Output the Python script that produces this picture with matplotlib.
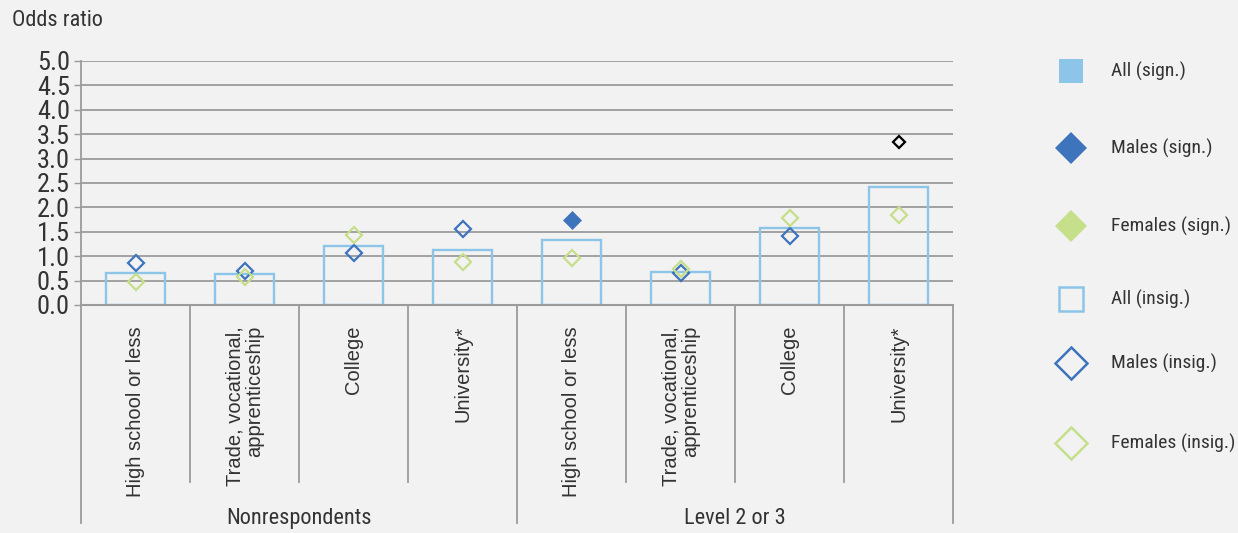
import matplotlib
matplotlib.use("Agg")
import matplotlib.pyplot as plt
from matplotlib import font_manager
from matplotlib.font_manager import FontProperties
from matplotlib.lines import Line2D

# odds ratios by literacy group and education
groups = ["Nonrespondents", "Level 2 or 3"]
categories = ["High school or less", "Trade, vocational,\napprenticeship", "College", "University*",
              "High school or less", "Trade, vocational,\napprenticeship", "College", "University*"]
all_vals = [0.66, 0.63, 1.21, 1.13, 1.33, 0.67, 1.58, 2.41]
males = [0.86, 0.70, 1.06, 1.56, 1.74, 0.65, 1.41, 3.35]
females = [0.47, 0.57, 1.43, 0.88, 0.97, 0.73, 1.78, 1.84]
males_sign = [False, False, False, False, True, False, False, False]
males_ref = [False, False, False, False, False, False, False, True]
legend_labels = ["All (sign.)", "Males (sign.)", "Females (sign.)",
                 "All (insig.)", "Males (insig.)", "Females (insig.)"]
yticks = [0.0, 0.5, 1.0, 1.5, 2.0, 2.5, 3.0, 3.5, 4.0, 4.5, 5.0]

BG = "#f2f2f2"
BLUE_LIGHT = "#8cc5e8"
BLUE = "#3d74bc"
GREEN = "#c5df8a"
GRID = "#9b9b9b"
TXT = "#333333"


def pick_narrow():
    # look for a condensed face among installed fonts
    best = None
    for f in font_manager.fontManager.ttflist:
        stretch = str(f.stretch).lower()
        narrowish = ("narrow" in f.name.lower() or "condensed" in f.name.lower()
                     or "condensed" in stretch or stretch in ("300", "400", "200"))
        if not narrowish or f.style != "normal" or f.weight not in (400, "normal", "regular"):
            continue
        rank = 0 if "Liberation" in f.name else 1 if "Roboto" in f.name else 2
        if best is None or rank < best[0]:
            best = (rank, f.fname)
    return best[1] if best else None


narrow_path = pick_narrow()
if narrow_path:
    def nfont(size):
        return FontProperties(fname=narrow_path, size=size)
else:
    def nfont(size):
        return FontProperties(family="DejaVu Sans", size=size * 0.82)

fig = plt.figure(figsize=(12.38, 5.33), dpi=100, facecolor=BG)
ax = fig.add_axes([81 / 1238, 1 - 305 / 533, (953 - 81) / 1238, 244 / 533])
ax.set_facecolor(BG)

x = list(range(len(categories)))

# bars (all insignificant -> outline only)
ax.bar(x, all_vals, width=0.54, facecolor="none", edgecolor=BLUE_LIGHT, linewidth=1.7, zorder=3)

for i in x:
    if males_ref[i]:
        ax.plot(i, males[i], marker="D", ms=6.5, mfc="none", mec="black", mew=1.6, zorder=4)
    elif males_sign[i]:
        ax.plot(i, males[i], marker="D", ms=9, mfc=BLUE, mec=BLUE, mew=0.5, zorder=4)
    else:
        ax.plot(i, males[i], marker="D", ms=8.5, mfc="none", mec=BLUE, mew=1.6, zorder=4)
    ax.plot(i, females[i], marker="D", ms=8.5, mfc="none", mec=GREEN, mew=1.6, zorder=5)

ax.set_xlim(-0.5, len(categories) - 0.5)
ax.set_ylim(0, 5)
ax.set_yticks(yticks)
ax.set_yticklabels([f"{v:.1f}" for v in yticks], color=TXT)
for t in ax.get_yticklabels():
    t.set_fontproperties(nfont(19))
ax.tick_params(axis="y", length=5, width=1, color=GRID, pad=3)
ax.tick_params(axis="x", bottom=False, labelbottom=False)
ax.grid(axis="y", color=GRID, linewidth=1.3, zorder=1)
for s in ["top", "right", "bottom"]:
    ax.spines[s].set_visible(False)
ax.spines["left"].set_color(GRID)
ax.spines["left"].set_linewidth(1.3)

# category axis drawn below the plot
tr = ax.get_xaxis_transform()
ax.plot([-0.5, len(categories) - 0.5], [0, 0], transform=tr, color=GRID, lw=1.5, clip_on=False, zorder=6)
for k in range(len(categories) + 1):
    edge = k % 4 == 0
    ax.plot([k - 0.5, k - 0.5], [0, -0.893 if edge else -0.725], transform=tr,
            color=GRID, lw=1.3, clip_on=False)
for i, lab in enumerate(categories):
    ax.text(i, -0.086, lab, transform=tr, rotation=90, ha="center", va="top",
            fontsize=14.5, color=TXT, family=["Liberation Sans", "DejaVu Sans"],
            linespacing=1.05, multialignment="right")
for g, name in enumerate(groups):
    ax.text(g * 4 + 1.5, -0.877, name, transform=tr, ha="center", va="center",
            fontproperties=nfont(16), color=TXT)

fig.text(12 / 1238, 1 - 21 / 533, "Odds ratio", ha="left", va="center",
         fontproperties=nfont(16), color=TXT)

# legend
leg_y = [71, 148, 226, 299, 363, 443]
styles = [
    dict(marker="s", ms=17, mfc=BLUE_LIGHT, mec=BLUE_LIGHT, mew=0),
    dict(marker="D", ms=16.5, mfc=BLUE, mec=BLUE, mew=0),
    dict(marker="D", ms=16.5, mfc=GREEN, mec=GREEN, mew=0),
    dict(marker="s", ms=17, mfc="none", mec=BLUE_LIGHT, mew=1.8),
    dict(marker="D", ms=16, mfc="none", mec=BLUE, mew=1.8),
    dict(marker="D", ms=16, mfc="none", mec=GREEN, mew=1.8),
]
for y, lab, st in zip(leg_y, legend_labels, styles):
    yf = 1 - y / 533
    fig.add_artist(Line2D([1071 / 1238], [yf], transform=fig.transFigure, linestyle="none", **st))
    fig.text(1111 / 1238, yf, lab, ha="left", va="center", fontproperties=nfont(14), color=TXT)

fig.savefig("out.png", dpi=100, facecolor=BG)
